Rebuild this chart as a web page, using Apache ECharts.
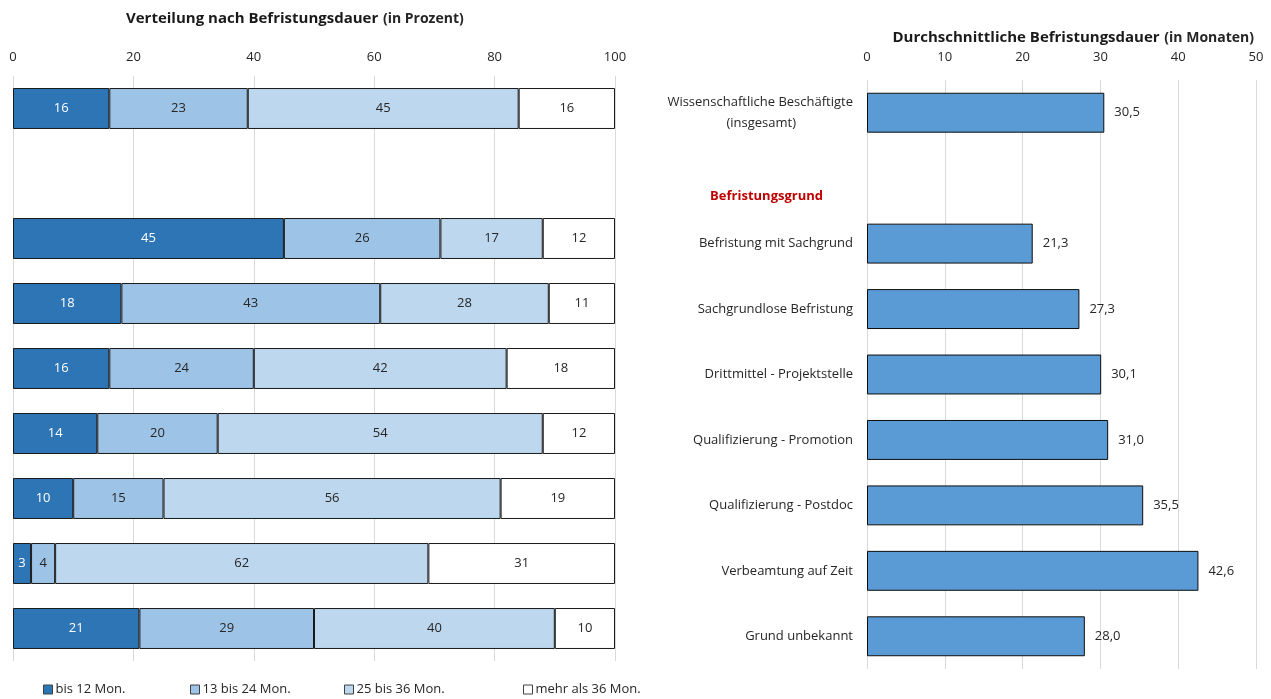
<!DOCTYPE html>
<html>
<head>
<meta charset="utf-8">
<script src="https://cdn.jsdelivr.net/npm/echarts@6/dist/echarts.min.js"></script>
<style>
  html, body { margin: 0; padding: 0; background: #fff; }
  #chart { width: 1271px; height: 699px; }
</style>
</head>
<body>
<div id="chart"></div>
<script>
// rows (shared by both panels), row 1 is the section header
var rowLabels = ['Wissenschaftliche Beschäftigte\n(insgesamt)', 'Befristungsgrund',
  'Befristung mit Sachgrund', 'Sachgrundlose Befristung', 'Drittmittel - Projektstelle',
  'Qualifizierung - Promotion', 'Qualifizierung - Postdoc', 'Verbeamtung auf Zeit', 'Grund unbekannt'];

// Verteilung nach Befristungsdauer (in Prozent)
var bis12 = [16, null, 45, 18, 16, 14, 10, 3, 21];
var bis24 = [23, null, 26, 43, 24, 20, 15, 4, 29];
var bis36 = [45, null, 17, 28, 42, 54, 56, 62, 40];
var ueber36 = [16, null, 12, 11, 18, 12, 19, 31, 10];
var shareNames = ['bis 12 Mon.', '13 bis 24 Mon.', '25 bis 36 Mon.', 'mehr als 36 Mon.'];

// Durchschnittliche Befristungsdauer (in Monaten)
var avgMonths = [30.5, null, 21.3, 27.3, 30.1, 31.0, 35.5, 42.6, 28.0];

var font = "'Open Sans', sans-serif";
var colors = ['#2E75B6', '#9DC3E6', '#BDD7EE', '#FFFFFF'];
var legendX = [38, 185, 339, 518];

var myChart = echarts.init(document.getElementById('chart'));

function shareSeries(i, data) {
  return {
    name: shareNames[i],
    type: 'bar',
    stack: 'share',
    xAxisIndex: 0,
    yAxisIndex: 0,
    barWidth: '63%',
    data: data,
    itemStyle: { color: colors[i], borderColor: '#1a1a1a', borderWidth: 1 },
    label: {
      show: true,
      position: 'inside',
      color: i == 0 ? '#ffffff' : '#262626',
      fontFamily: font,
      fontSize: 13
    }
  };
}

var titleRich = {
  b: { fontFamily: font, fontSize: 15, fontWeight: 'bold', color: '#1a1a1a' },
  n: { fontFamily: font, fontSize: 14, color: '#262626' }
};

var option = {
  textStyle: { fontFamily: font },
  title: [{
    text: '{b|Verteilung nach Befristungsdauer} {n|(in Prozent)}',
    left: 121, top: 5,
    textStyle: { rich: titleRich }
  }, {
    text: '{b|Durchschnittliche Befristungsdauer} {n|(in Monaten)}',
    right: 12, top: 24,
    textStyle: { rich: titleRich }
  }],
  legend: shareNames.map(function (n, i) {
    return {
      data: [n],
      left: legendX[i],
      top: 678,
      itemWidth: 9,
      itemHeight: 9,
      itemGap: 4,
      icon: 'rect',
      itemStyle: { borderColor: '#404040', borderWidth: 1 },
      textStyle: { fontFamily: font, fontSize: 13, color: '#262626', padding: [0, 0, 0, -2] }
    };
  }),
  grid: [
    { left: 13, right: 656, top: 76, height: 585 },
    { left: 867, right: 15, top: 80, height: 589 }
  ],
  xAxis: [{
    gridIndex: 0,
    type: 'value',
    position: 'top',
    min: 0, max: 100, interval: 20,
    axisLine: { show: false },
    axisTick: { show: false },
    axisLabel: { color: '#262626', fontSize: 13, margin: 12 },
    splitLine: { lineStyle: { color: '#D9D9D9' } }
  }, {
    gridIndex: 1,
    type: 'value',
    position: 'top',
    min: 0, max: 50, interval: 10,
    axisLine: { show: false },
    axisTick: { show: false },
    axisLabel: { color: '#262626', fontSize: 13, margin: 16 },
    splitLine: { lineStyle: { color: '#D9D9D9' } }
  }],
  yAxis: [{
    gridIndex: 0,
    type: 'category',
    inverse: true,
    data: rowLabels,
    axisLine: { show: false },
    axisTick: { show: false },
    axisLabel: { show: false }
  }, {
    gridIndex: 1,
    type: 'category',
    inverse: true,
    data: rowLabels,
    axisLine: { show: false },
    axisTick: { show: false },
    axisLabel: {
      margin: 14,
      color: '#262626',
      fontSize: 13,
      formatter: function (v, i) {
        if (i == 1) return '{h|' + v + '}';
        if (i == 0) {
          var parts = v.split('\n');
          return '{a|' + parts[0] + '}\n{c|' + parts[1] + '}';
        }
        return v;
      },
      rich: {
        h: { color: '#C00000', fontWeight: 'bold', fontSize: 13, fontFamily: font, padding: [36, 30, 0, 0] },
        a: { color: '#262626', fontSize: 13, fontFamily: font, lineHeight: 21 },
        c: { color: '#262626', fontSize: 13, fontFamily: font, lineHeight: 21, padding: [0, 57, 0, 0] }
      }
    }
  }],
  series: [
    shareSeries(0, bis12),
    shareSeries(1, bis24),
    shareSeries(2, bis36),
    shareSeries(3, ueber36),
    {
      name: 'Durchschnitt',
      type: 'bar',
      xAxisIndex: 1,
      yAxisIndex: 1,
      barWidth: '61%',
      data: avgMonths,
      itemStyle: { color: '#5B9BD5', borderColor: '#0d0d0d', borderWidth: 1 },
      label: {
        show: true,
        position: 'right',
        distance: 10,
        color: '#262626',
        fontSize: 13,
        fontFamily: font,
        formatter: function (p) { return p.value.toFixed(1).replace('.', ','); }
      }
    }
  ]
};

myChart.setOption(option);
</script>
</body>
</html>
